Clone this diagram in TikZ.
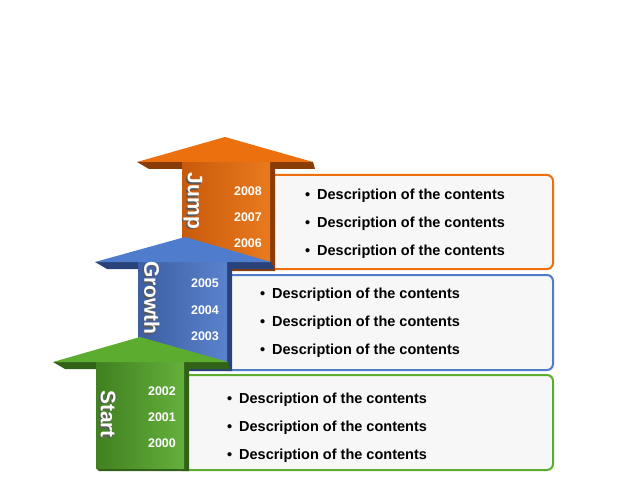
\documentclass[tikz,border=0pt]{standalone}
\usepackage{fontspec}
\setmainfont{Liberation Sans}
\usetikzlibrary{calc}

\definecolor{orhead}{RGB}{236,112,14}
\definecolor{orleft}{RGB}{200,90,12}
\definecolor{orright}{RGB}{234,122,30}
\definecolor{ordark}{RGB}{138,60,8}
\definecolor{blhead}{RGB}{80,124,206}
\definecolor{blleft}{RGB}{60,94,162}
\definecolor{blright}{RGB}{90,130,204}
\definecolor{bldark}{RGB}{42,66,122}
\definecolor{grhead}{RGB}{92,172,48}
\definecolor{grleft}{RGB}{64,128,32}
\definecolor{grright}{RGB}{100,176,60}
\definecolor{grdark}{RGB}{50,98,24}
\definecolor{boxfill}{RGB}{247,247,247}

\tikzset{
  yr/.style={text=white,inner sep=0pt,font=\bfseries\fontsize{12.5}{12.5}\selectfont},
  desc/.style={anchor=west,inner sep=0pt,font=\bfseries\fontsize{14.5}{14.5}\selectfont},
  lbl/.style={rotate=-90,inner sep=0pt,text=white,font=\bfseries\fontsize{21}{21}\selectfont},
  lblshadow/.style={lbl,text=black!65},
  contentbox/.style={line width=2pt,rounded corners=6pt,fill=boxfill}
}

\begin{document}
\begin{tikzpicture}[x=1pt,y=-1pt]
%\draw[help lines] (0,0) grid (635,484);
\useasboundingbox (0,0) rectangle (635,484);

% Jump
\draw[contentbox,draw=orhead] (262,175) rectangle (553,269);
\fill[ordark] (137,162)--(182,162)--(182,169)--(149,169)--cycle;
\fill[ordark] (270,162)--(313,162)--(315,169)--(275,169)--(275,271)--(185,271)--(182,268)--(270,268)--cycle;
\shade[left color=orleft,right color=orright] (182,161) rectangle (270,268);
\fill[orhead] (225,137)--(313,162)--(137,162)--cycle;
\node[lblshadow] (jumps) at (191.5,202.5) {Jump};
\node[lbl] (jump) at (193,201) {Jump};
\node[yr] (y2008) at (248,191) {2008};
\node[yr] (y2007) at (248,217) {2007};
\node[yr] (y2006) at (248,243) {2006};
\node[desc] (j1) at (317,196) {\llap{\textbullet\hspace{7pt}}Description of the contents};
\node[desc] (j2) at (317,224) {\llap{\textbullet\hspace{7pt}}Description of the contents};
\node[desc] (j3) at (317,252) {\llap{\textbullet\hspace{7pt}}Description of the contents};

% Growth
\draw[contentbox,draw=blhead] (220,275) rectangle (553,370);
\fill[bldark] (95,262)--(138,262)--(138,269)--(107,269)--cycle;
\fill[bldark] (227,262)--(271,262)--(274,269)--(232,269)--(232,371)--(141,371)--(138,368)--(227,368)--cycle;
\shade[left color=blleft,right color=blright] (138,261) rectangle (227,368);
\fill[blhead] (185,237)--(271,262)--(95,262)--cycle;
\node[lblshadow] (growths) at (150.5,299.5) {Growth};
\node[lbl] (growth) at (152,298) {Growth};
\node[yr] (y2005) at (205,283) {2005};
\node[yr] (y2004) at (205,310) {2004};
\node[yr] (y2003) at (205,336) {2003};
\node[desc] (g1) at (272,295) {\llap{\textbullet\hspace{7pt}}Description of the contents};
\node[desc] (g2) at (272,323) {\llap{\textbullet\hspace{7pt}}Description of the contents};
\node[desc] (g3) at (272,351) {\llap{\textbullet\hspace{7pt}}Description of the contents};

% Start
\draw[contentbox,draw=grhead] (176,375) rectangle (553,470);
\fill[grdark] (53,362)--(96,362)--(96,369)--(65,369)--cycle;
\fill[grdark] (184,362)--(228,362)--(230,369)--(189,369)--(189,471)--(99,471)--(96,468)--(184,468)--cycle;
\shade[left color=grleft,right color=grright] (96,361) rectangle (184,468);
\fill[grhead] (140,337)--(228,362)--(53,362)--cycle;
\node[lblshadow] (starts) at (106.5,415.5) {Start};
\node[lbl] (start) at (108,414) {Start};
\node[yr] (y2002) at (162,391) {2002};
\node[yr] (y2001) at (162,417) {2001};
\node[yr] (y2000) at (162,443) {2000};
\node[desc] (s1) at (239,400) {\llap{\textbullet\hspace{7pt}}Description of the contents};
\node[desc] (s2) at (239,428) {\llap{\textbullet\hspace{7pt}}Description of the contents};
\node[desc] (s3) at (239,456) {\llap{\textbullet\hspace{7pt}}Description of the contents};
\end{tikzpicture}
\end{document}
